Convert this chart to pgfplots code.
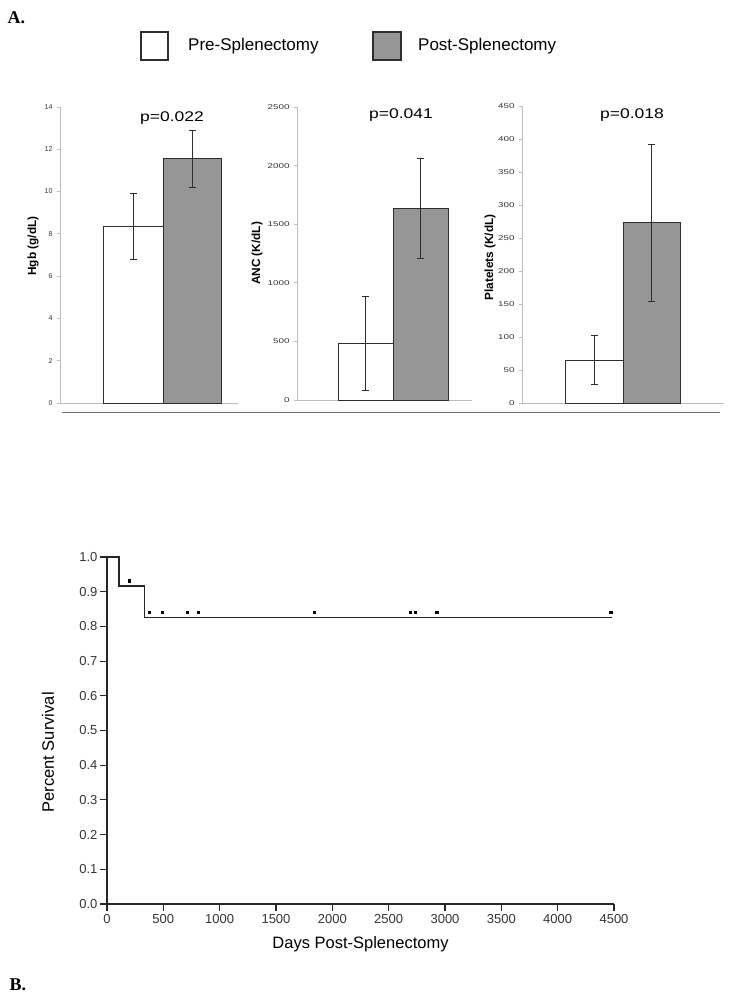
\documentclass[border=0pt]{standalone}
\usepackage{pgfplots}
\pgfplotsset{compat=1.18}
\usepackage{fontspec}
\setmainfont{Liberation Sans}
\newfontfamily\serifb{Liberation Serif}
\definecolor{bargray}{HTML}{969696}
\definecolor{axgray}{HTML}{BDBDBD}
\definecolor{edge}{HTML}{2E2E2E}
\definecolor{txt}{HTML}{333333}

\pgfplotsset{
  barpanel/.style={
    scale only axis, anchor=south west,
    axis x line=bottom, axis y line=left,
    axis line style={axgray, line width=0.9pt, -},
    xtick=\empty, ymin=0, xmin=0,
    tick align=outside, major tick length=3pt,
    ytick style={axgray, line width=0.8pt},
    /pgf/number format/assume math mode=true,
    /pgf/number format/1000 sep={},
    yticklabel style={font=\fontsize{7}{8}\selectfont, text=txt, xshift=-1pt},
    ylabel style={font=\fontsize{11.8}{13}\selectfont\bfseries, anchor=center},
    clip=false,
    error bars/error bar style={line width=0.8pt, edge},
    error bars/error mark options={rotate=90, line width=0.8pt, edge, mark size=3.5pt},
  },
  prebar/.style={ybar, bar shift=0pt, fill=white, draw=edge, line width=0.9pt,
    error bars/y dir=both, error bars/y explicit},
  postbar/.style={ybar, bar shift=0pt, fill=bargray, draw=edge, line width=0.9pt,
    error bars/y dir=both, error bars/y explicit},
}

\begin{document}
\begin{tikzpicture}
\path[use as bounding box] (0pt,0pt) rectangle (733pt,-1000pt);

% panel labels
\node[anchor=west, font=\serifb\fontsize{18}{20}\selectfont\bfseries] at (4pt,-18pt) {A.};
\node[anchor=west, font=\serifb\fontsize{18}{20}\selectfont\bfseries] at (6pt,-985pt) {B.};

% legend
\draw[edge, line width=1.2pt, fill=white] (141pt,-32pt) rectangle (168pt,-60pt);
\node[anchor=west, inner sep=0pt, font=\fontsize{17}{20}\selectfont] at (188pt,-46pt) {Pre-Splenectomy};
\draw[edge, line width=1.2pt, fill=bargray] (373pt,-32pt) rectangle (401pt,-60pt);
\node[anchor=west, inner sep=0pt, font=\fontsize{17}{20}\selectfont] at (418pt,-46pt) {Post-Splenectomy};

% Hgb
\begin{axis}[barpanel, at={(60pt,-403pt)}, width=178pt, height=296pt,
  xmax=178, ymax=14, ytick={0,2,...,14},
  ylabel={Hgb (g/dL)}, ylabel style={at={(axis description cs:0,0.53)}, yshift=27pt}]
\addplot[prebar, bar width=60] coordinates {(73,8.35) +- (0,1.55)};
\addplot[postbar, bar width=58] coordinates {(132,11.55) +- (0,1.35)};
\node[font=\fontsize{14}{16}\selectfont] at (axis cs:112,13.5) {\scalebox{1.25}[1]{p=0.022}};
\end{axis}

% ANC
\begin{axis}[barpanel, at={(297pt,-400pt)}, width=175pt, height=293pt,
  xmax=175, ymax=2500, ytick={0,500,...,2500},
  yticklabel={\scalebox{1.4}[1]{\pgfmathprintnumber{\tick}}},
  ylabel={ANC (K/dL)}, ylabel style={at={(axis description cs:0,0.5)}, yshift=40pt}]
\addplot[prebar, bar width=55] coordinates {(68.5,480) +- (0,400)};
\addplot[postbar, bar width=55] coordinates {(123.5,1635) +- (0,425)};
\node[font=\fontsize{14}{16}\selectfont] at (axis cs:104,2432) {\scalebox{1.25}[1]{p=0.041}};
\end{axis}

% Platelets
\begin{axis}[barpanel, at={(522pt,-403pt)}, width=202pt, height=297pt,
  xmax=202, ymax=450, ytick={0,50,...,450},
  yticklabel={\scalebox{1.4}[1]{\pgfmathprintnumber{\tick}}},
  ylabel={Platelets (K/dL)}, ylabel style={at={(axis description cs:0,0.49)}, yshift=32pt}]
\addplot[prebar, bar width=58] coordinates {(72,65) +- (0,37)};
\addplot[postbar, bar width=57] coordinates {(129.5,273) +- (0,119)};
\node[font=\fontsize{14}{16}\selectfont] at (axis cs:110,436) {\scalebox{1.25}[1]{p=0.018}};
\end{axis}

% separator line
\draw[black!55, line width=0.9pt] (62pt,-412pt) -- (720pt,-412pt);

% survival
\begin{axis}[scale only axis, anchor=south west, at={(107pt,-904pt)},
  width=507pt, height=347pt,
  xmin=0, xmax=4500, ymin=0, ymax=1,
  axis x line=bottom, axis y line=left,
  axis line style={-, line width=1.1pt, black!85},
  tick align=outside, major tick length=7pt,
  tick style={line width=1.1pt, black!85},
  xtick={0,500,...,4500},
  ytick={0,0.1,0.2,0.3,0.4,0.5,0.6,0.7,0.8,0.9,1.0},
  /pgf/number format/assume math mode=true,
  yticklabel style={font=\fontsize{13}{15}\selectfont, text=txt, xshift=1pt, /pgf/number format/.cd, fixed, fixed zerofill, precision=1},
  xticklabel style={font=\fontsize{13}{15}\selectfont, text=txt, /pgf/number format/.cd, fixed, 1000 sep={}},
  scaled x ticks=false,
  xlabel={Days Post-Splenectomy}, ylabel={Percent Survival},
  xlabel style={font=\fontsize{16.5}{18}\selectfont, at={(axis description cs:0.5,0)}, anchor=center, yshift=-40pt},
  ylabel style={font=\fontsize{16.5}{18}\selectfont, at={(axis description cs:0,0.437)}, anchor=center, yshift=59pt},
  clip=false]
\addplot[const plot, black!85, line width=1.5pt] coordinates {(0,1) (106,0.9167) (331,0.825) (4480,0.825)};
\addplot[only marks, mark=square*, mark size=1.1pt, black] coordinates {
  (198,0.932) (373,0.841) (491,0.841) (713,0.841) (811,0.841) (1840,0.841)
  (2689,0.841) (2734,0.841) (2926,0.841) (4470,0.841)};
\end{axis}
\end{tikzpicture}
\end{document}
